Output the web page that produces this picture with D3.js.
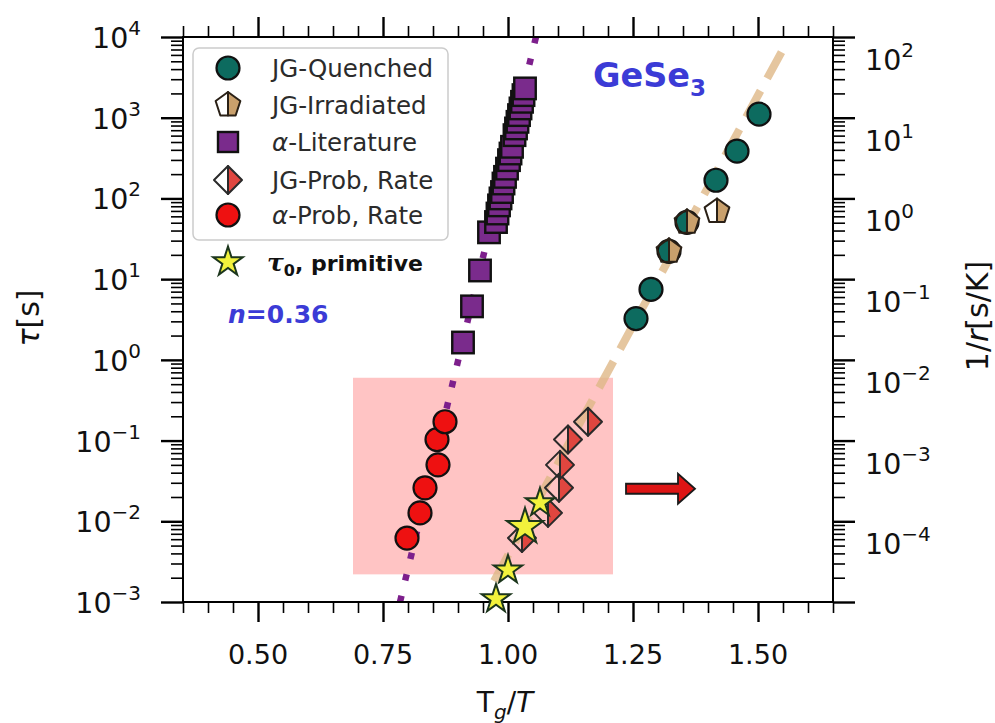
<!DOCTYPE html>
<html>
<head>
<meta charset="utf-8">
<script src="https://cdn.jsdelivr.net/npm/d3@7"></script>
<style>
  body { margin: 0; background: #ffffff; }
  svg { display: block; }
  text { font-family: "DejaVu Sans", sans-serif; }
</style>
</head>
<body>
<svg id="chart" width="995" height="723"></svg>
<script>
// ---------------- data ----------------
const xDomain = [0.35, 1.65];
const yDomain = [1e-3, 1e4];          // left axis: tau [s]
const yRightDomain = [1e-5, 1e2];     // right axis: 1/r [s/K]

const xMajorTicks = [0.50, 0.75, 1.00, 1.25, 1.50];
const xTickLabels = ["0.50", "0.75", "1.00", "1.25", "1.50"];
const yLeftMajor = [1e-3, 1e-2, 1e-1, 1e0, 1e1, 1e2, 1e3, 1e4];
const yRightMajor = [1e-5, 1e-4, 1e-3, 1e-2, 1e-1, 1e0, 1e1, 1e2];
const yRightLabelled = [1e-4, 1e-3, 1e-2, 1e-1, 1e0, 1e1, 1e2];

// JG-Quenched
const jgQuenchedX = [1.256, 1.286, 1.322, 1.358, 1.416, 1.458, 1.502];
const jgQuenchedTau = [3.25, 7.45, 22.1, 50.6, 168, 385, 1107];

// JG-Irradiated
const jgIrradX = [1.322, 1.358, 1.418];
const jgIrradTau = [22.1, 50.6, 69];

// alpha-Literature
const alphaLitX = [0.910, 0.928, 0.944, 0.962, 0.976, 0.979, 0.982, 0.985, 0.988, 0.991, 0.994,
                   0.998, 1.002, 1.005, 1.008, 1.013, 1.016, 1.019, 1.022, 1.025, 1.028, 1.031, 1.034];
const alphaLitTau = [1.64, 4.6, 12.8, 38, 51, 65, 82, 100, 120, 153, 185,
                     234, 298, 360, 436, 608, 736, 889, 1077, 1303, 1574, 1905, 2307];

// probability-rate points (alpha and JG share the same times)
const rateTau = [0.0062, 0.0127, 0.026, 0.050, 0.103, 0.171];
const jgRateX = [1.028, 1.080, 1.102, 1.104, 1.120, 1.160];
const alphaRateX = [0.798, 0.824, 0.834, 0.860, 0.858, 0.874];

// primitive relaxation times tau_0
const tau0X = [0.976, 1.000, 1.034, 1.064];
const tau0Tau = [0.00109, 0.00249, 0.00853, 0.01694];
const tau0Big = [false, false, true, false];

// fit lines (end points)
const alphaFit = [[0.784, 1e-3], [1.056, 1e4]];
const jgFit = [[1.547, 6500], [0.970, 0.00172]];

// highlighted region and arrow
const regionX = [0.69, 1.21];
const regionTau = [0.0022, 0.6];
const arrowX = [1.236, 1.374];
const arrowTau = 0.0253;

const legendLabels = ["JG-Quenched", "JG-Irradiated", "α-Literature", "JG-Prob, Rate", "α-Prob, Rate"];

// ---------------- layout ----------------
const P = { left: 183, right: 833, top: 37, bottom: 602 };
const svg = d3.select("#chart");
svg.append("rect").attr("width", 995).attr("height", 723).attr("fill", "#ffffff");

const x = d3.scaleLinear().domain(xDomain).range([P.left, P.right]);
const y = d3.scaleLog().domain(yDomain).range([P.bottom, P.top]);
const yR = d3.scaleLog().domain(yRightDomain).range([P.bottom, P.top]);

const C = {
  teal: "#0d6b5f", tan: "#c9a06c", purple: "#7a2b8c", coral: "#e0463f",
  red: "#ee1111", star: "#f2f23c", starEdge: "#1c361c", blue: "#3b3bd6",
  fitPurple: "#7d1f8c", fitTan: "#deb887"
};

function minorLog(domain) {
  const out = [];
  const lo = Math.round(Math.log10(domain[0])), hi = Math.round(Math.log10(domain[1]));
  for (let k = lo; k < hi; k++) for (let m = 2; m <= 9; m++) out.push(m * Math.pow(10, k));
  return out;
}
const xMinor = d3.range(0.35, 1.6501, 0.05).filter(v => !xMajorTicks.some(t => Math.abs(t - v) < 1e-6));

svg.append("defs").append("clipPath").attr("id", "plotClip")
  .append("rect").attr("x", P.left).attr("y", P.top)
  .attr("width", P.right - P.left).attr("height", P.bottom - P.top);

// ---------------- region & fit lines ----------------
svg.append("rect")
  .attr("x", x(regionX[0])).attr("y", y(regionTau[1]))
  .attr("width", x(regionX[1]) - x(regionX[0]))
  .attr("height", y(regionTau[0]) - y(regionTau[1]))
  .attr("fill", "#ff0000").attr("fill-opacity", 0.23);

const line = d3.line().x(d => x(d[0])).y(d => y(d[1]));
const fits = svg.append("g").attr("clip-path", "url(#plotClip)");
fits.append("path").attr("d", line(alphaFit))
  .attr("fill", "none").attr("stroke", C.fitPurple).attr("stroke-width", 6.5)
  .attr("stroke-dasharray", "6.5,15.6");
fits.append("path").attr("d", line(jgFit))
  .attr("fill", "none").attr("stroke", C.fitTan).attr("stroke-width", 8)
  .attr("stroke-opacity", 0.8).attr("stroke-dasharray", "30,14");

// ---------------- axes ----------------
function tickAxis(axisFn, scale, values, size, width, tx, ty) {
  const g = svg.append("g").attr("transform", `translate(${tx},${ty})`)
    .call(axisFn(scale).tickValues(values).tickSize(size).tickFormat(""));
  g.select(".domain").remove();
  g.selectAll(".tick line").attr("stroke", "#000").attr("stroke-width", width);
  return g;
}
tickAxis(d3.axisBottom, x, xMajorTicks, 20, 2.4, 0, P.bottom);
tickAxis(d3.axisBottom, x, xMinor, 11, 1.6, 0, P.bottom);
tickAxis(d3.axisTop, x, xMajorTicks, 20, 2.4, 0, P.top);
tickAxis(d3.axisTop, x, xMinor, 11, 1.6, 0, P.top);
tickAxis(d3.axisLeft, y, yLeftMajor, 22, 2.4, P.left, 0);
tickAxis(d3.axisLeft, y, minorLog(yDomain), 12, 1.6, P.left, 0);
tickAxis(d3.axisRight, yR, yRightMajor, 22, 2.4, P.right, 0);
tickAxis(d3.axisRight, yR, minorLog(yRightDomain), 12, 1.6, P.right, 0);

svg.append("rect").attr("x", P.left).attr("y", P.top)
  .attr("width", P.right - P.left).attr("height", P.bottom - P.top)
  .attr("fill", "none").attr("stroke", "#000").attr("stroke-width", 2);

// tick labels
xMajorTicks.forEach((v, i) => {
  svg.append("text").attr("x", x(v)).attr("y", 664).attr("text-anchor", "middle")
    .attr("font-size", 27).attr("fill", "#111").text(xTickLabels[i]);
});
function powText(sel, v) {
  const e = Math.round(Math.log10(v));
  sel.append("tspan").text("10");
  sel.append("tspan").attr("dy", -13).attr("font-size", 20).text(e < 0 ? "−" + (-e) : String(e));
}
yLeftMajor.forEach(v => {
  const t = svg.append("text").attr("x", 141).attr("y", y(v) + 11)
    .attr("text-anchor", "end").attr("font-size", 28.5).attr("fill", "#111");
  powText(t, v);
});
yRightLabelled.forEach(v => {
  const t = svg.append("text").attr("x", 865).attr("y", yR(v) + 33)
    .attr("font-size", 28.5).attr("fill", "#111");
  powText(t, v);
});

// axis titles
const xt = svg.append("text").attr("x", 505).attr("y", 712).attr("text-anchor", "middle")
  .attr("font-size", 28).attr("fill", "#111");
xt.append("tspan").text("T");
xt.append("tspan").attr("dy", 7).attr("font-size", 20).attr("font-style", "italic").text("g");
xt.append("tspan").attr("dy", -7).text("/");
xt.append("tspan").attr("font-style", "italic").text("T");

const yt = svg.append("text").attr("transform", "translate(39,318) rotate(-90)")
  .attr("text-anchor", "middle").attr("font-size", 30).attr("fill", "#111");
yt.append("tspan").attr("font-style", "italic").text("τ");
yt.append("tspan").text("[s]");

const yrt = svg.append("text").attr("transform", "translate(988,316) rotate(-90)")
  .attr("text-anchor", "middle").attr("font-size", 30).attr("fill", "#111");
yrt.append("tspan").text("1/");
yrt.append("tspan").attr("font-style", "italic").text("r");
yrt.append("tspan").text("[s/K]");

// ---------------- marker shapes ----------------
function starPath(R) {
  const pts = [];
  for (let i = 0; i < 10; i++) {
    const r = i % 2 === 0 ? R : R * 0.382;
    const a = -Math.PI / 2 + i * Math.PI / 5;
    pts.push([r * Math.cos(a), r * Math.sin(a)]);
  }
  return "M" + pts.map(p => p.join(",")).join("L") + "Z";
}
function pentagonHalves(R) {
  const v = [0, 1, 2, 3, 4].map(i => {
    const a = -Math.PI / 2 + i * 2 * Math.PI / 5;
    return [R * Math.cos(a), R * Math.sin(a)];
  });
  const yb = v[2][1];
  const right = [v[0], v[1], v[2], [0, yb]];
  const left = [v[0], [0, yb], v[3], v[4]];
  return { right, left };
}
function diamondHalves(h) {
  return { right: [[0, -h], [h, 0], [0, h]], left: [[0, -h], [-h, 0], [0, h]] };
}
const poly = pts => "M" + pts.map(p => p.join(",")).join("L") + "Z";

function drawCircle(g, cx, cy, r, fill) {
  g.append("circle").attr("cx", cx).attr("cy", cy).attr("r", r)
    .attr("fill", fill).attr("stroke", "#111").attr("stroke-width", 2.2);
}
function drawSquare(g, cx, cy, s) {
  g.append("rect").attr("x", cx - s / 2).attr("y", cy - s / 2).attr("width", s).attr("height", s)
    .attr("fill", C.purple).attr("stroke", "#111").attr("stroke-width", 2.4);
}
function drawHalf(g, cx, cy, halves, fill, edge) {
  const m = g.append("g").attr("transform", `translate(${cx},${cy})`);
  m.append("path").attr("d", poly(halves.left)).attr("fill", "none")
    .attr("stroke", edge).attr("stroke-width", 2).attr("stroke-linejoin", "round");
  m.append("path").attr("d", poly(halves.right)).attr("fill", fill)
    .attr("stroke", edge).attr("stroke-width", 2).attr("stroke-linejoin", "round");
}
function drawStar(g, cx, cy, R) {
  g.append("path").attr("transform", `translate(${cx},${cy})`).attr("d", starPath(R))
    .attr("fill", C.star).attr("stroke", C.starEdge).attr("stroke-width", 2)
    .attr("stroke-linejoin", "miter");
}

// ---------------- data markers ----------------
const marks = svg.append("g");
alphaLitX.forEach((v, i) => drawSquare(marks, x(v), y(alphaLitTau[i]), 21.5));
jgQuenchedX.forEach((v, i) => drawCircle(marks, x(v), y(jgQuenchedTau[i]), 11.5, C.teal));
jgIrradX.forEach((v, i) => drawHalf(marks, x(v), y(jgIrradTau[i]), pentagonHalves(13), C.tan, "#2a2016"));
jgRateX.forEach((v, i) => drawHalf(marks, x(v), y(rateTau[i]), diamondHalves(14), C.coral, "#2a2a2a"));
alphaRateX.forEach((v, i) => drawCircle(marks, x(v), y(rateTau[i]), 11.5, C.red));
tau0X.forEach((v, i) => drawStar(marks, x(v), y(tau0Tau[i]), tau0Big[i] ? 19 : 15));

// arrow pointing to the right-hand axis
{
  const x0 = x(arrowX[0]), x1 = x(arrowX[1]), yc = y(arrowTau);
  const hl = 17, hw = 15, sw = 5;
  const pts = [[x0, yc - sw], [x1 - hl, yc - sw], [x1 - hl, yc - hw], [x1, yc],
               [x1 - hl, yc + hw], [x1 - hl, yc + sw], [x0, yc + sw]];
  svg.append("path").attr("d", poly(pts)).attr("fill", "#dd1515")
    .attr("stroke", "#1a1a1a").attr("stroke-width", 1.8).attr("stroke-linejoin", "miter");
}

// ---------------- legend ----------------
const lg = svg.append("g");
lg.append("rect").attr("x", 193).attr("y", 48).attr("width", 255).attr("height", 192).attr("rx", 6)
  .attr("fill", "#ffffff").attr("fill-opacity", 0.85).attr("stroke", "#cccccc").attr("stroke-width", 1.5);
const rowY = [68, 105, 142, 180, 215];
const lx = 228;
drawCircle(lg, lx, rowY[0], 11.5, C.teal);
drawHalf(lg, lx, rowY[1], pentagonHalves(13), C.tan, "#2a2016");
drawSquare(lg, lx, rowY[2], 20);
drawHalf(lg, lx, rowY[3], diamondHalves(14), C.coral, "#2a2a2a");
drawCircle(lg, lx, rowY[4], 11.5, C.red);
legendLabels.forEach((s, i) => {
  const t = lg.append("text").attr("x", 272).attr("y", rowY[i] + 9)
    .attr("font-size", 24.5).attr("fill", "#2b2b2b");
  if (s.startsWith("α")) {
    t.append("tspan").attr("font-style", "italic").text("α");
    t.append("tspan").text(s.slice(1));
  } else t.text(s);
});
drawStar(svg, lx, 262, 15.5);
const tl = svg.append("text").attr("x", 267).attr("y", 271).attr("fill", "#111").attr("font-weight", "bold");
tl.append("tspan").attr("font-family", "DejaVu Serif").attr("font-style", "italic").attr("font-size", 25).text("τ");
tl.append("tspan").attr("font-size", 16).attr("dy", 5).text("0");
tl.append("tspan").attr("font-size", 22).attr("dy", -5).text(",  primitive");

// ---------------- annotations ----------------
const ge = svg.append("text").attr("x", 593).attr("y", 87).attr("font-size", 33.5)
  .attr("font-weight", "bold").attr("fill", C.blue);
ge.append("tspan").text("GeSe");
ge.append("tspan").attr("font-size", 23).attr("dy", 9).text("3");

const nt = svg.append("text").attr("x", 228).attr("y", 323).attr("font-size", 25)
  .attr("font-weight", "bold").attr("fill", C.blue);
nt.append("tspan").attr("font-style", "italic").text("n");
nt.append("tspan").text("=0.36");
</script>
</body>
</html>
